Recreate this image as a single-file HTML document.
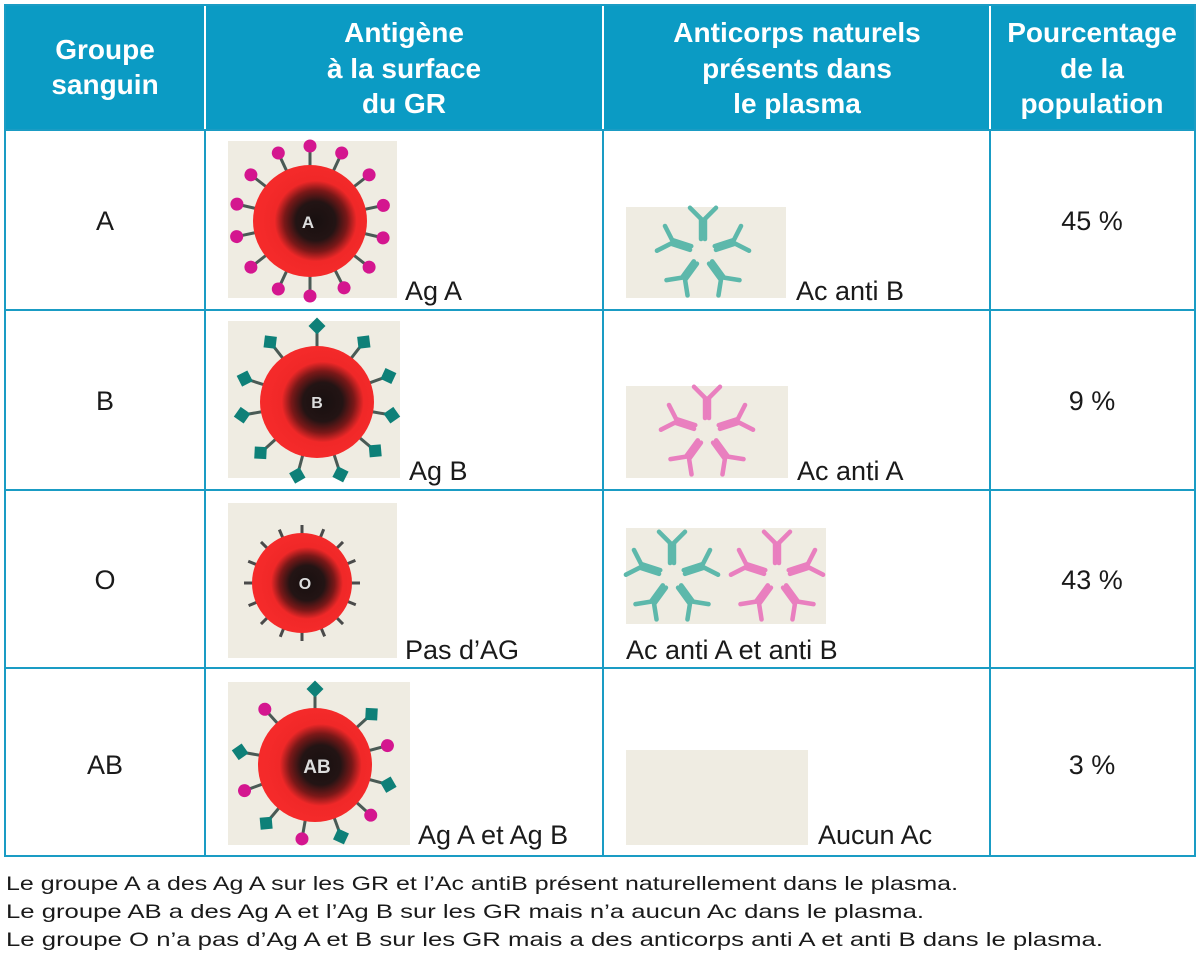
<!DOCTYPE html>
<html><head><meta charset="utf-8"><style>
html,body{margin:0;padding:0;background:#fff;}
svg{display:block;font-family:"Liberation Sans",sans-serif;}
</style></head><body>
<svg width="1200" height="960" viewBox="0 0 1200 960" xmlns="http://www.w3.org/2000/svg">
<defs>
<radialGradient id="rbc" cx="0.55" cy="0.5" r="0.5">
<stop offset="0" stop-color="#181010"/>
<stop offset="0.35" stop-color="#231414"/>
<stop offset="0.55" stop-color="#7a1818"/>
<stop offset="0.72" stop-color="#f02828"/>
<stop offset="1" stop-color="#f52a2a"/>
</radialGradient>
<g id="spA"><line x1="0" y1="-54" x2="0" y2="-70" stroke="#4a5a55" stroke-width="3"/><circle cx="0" cy="-75" r="6.5" fill="#d4168f"/></g>
<g id="spB"><line x1="0" y1="-54" x2="0" y2="-70" stroke="#4a5a55" stroke-width="3"/><rect x="-6" y="-82" width="12" height="12" fill="#0e8078" transform="rotate(45 0 -76)"/></g>
<g id="spO"><line x1="0" y1="-46" x2="0" y2="-58" stroke="#4a4a4a" stroke-width="3"/></g>
<g id="yT"><g stroke="#5db8ab" stroke-width="3.5" fill="none" stroke-linecap="round"><line x1="-1.5" y1="0" x2="-1.5" y2="-15"/><line x1="1.5" y1="0" x2="1.5" y2="-15"/><line x1="-1" y1="-15" x2="-10" y2="-24"/><line x1="1" y1="-15" x2="10" y2="-24"/></g></g>
<g id="yP"><g stroke="#e97fbf" stroke-width="3.5" fill="none" stroke-linecap="round"><line x1="-1.5" y1="0" x2="-1.5" y2="-15"/><line x1="1.5" y1="0" x2="1.5" y2="-15"/><line x1="-1" y1="-15" x2="-10" y2="-24"/><line x1="1" y1="-15" x2="10" y2="-24"/></g></g>
<g id="cT"><use href="#yT" transform="rotate(0) translate(0,-10)"/><use href="#yT" transform="rotate(72) translate(0,-10)"/><use href="#yT" transform="rotate(144) translate(0,-10)"/><use href="#yT" transform="rotate(216) translate(0,-10)"/><use href="#yT" transform="rotate(288) translate(0,-10)"/></g>
<g id="cP"><use href="#yP" transform="rotate(0) translate(0,-10)"/><use href="#yP" transform="rotate(72) translate(0,-10)"/><use href="#yP" transform="rotate(144) translate(0,-10)"/><use href="#yP" transform="rotate(216) translate(0,-10)"/><use href="#yP" transform="rotate(288) translate(0,-10)"/></g>
</defs>

<rect x="5" y="5" width="1190" height="124" fill="#0b9bc4"/>
<g stroke="#fff" stroke-width="2"><line x1="205" y1="5" x2="205" y2="129"/><line x1="603" y1="5" x2="603" y2="129"/><line x1="990" y1="5" x2="990" y2="129"/></g>
<g fill="#fff" font-weight="bold" font-size="28" text-anchor="middle">
<text x="105" y="59">Groupe</text><text x="105" y="94">sanguin</text>
<text x="404" y="42">Antigène</text><text x="404" y="78">à la surface</text><text x="404" y="113">du GR</text>
<text x="797" y="42">Anticorps naturels</text><text x="797" y="78">présents dans</text><text x="797" y="113">le plasma</text>
<text x="1092" y="42">Pourcentage</text><text x="1092" y="78">de la</text><text x="1092" y="113">population</text>
</g>

<g stroke="#1a9cc4" stroke-width="2" fill="none">
<rect x="5" y="5" width="1190" height="851"/>
<line x1="5" y1="130" x2="1195" y2="130"/>
<line x1="5" y1="310" x2="1195" y2="310"/>
<line x1="5" y1="490" x2="1195" y2="490"/>
<line x1="5" y1="668" x2="1195" y2="668"/>
<line x1="205" y1="130" x2="205" y2="856"/>
<line x1="603" y1="130" x2="603" y2="856"/>
<line x1="990" y1="130" x2="990" y2="856"/>
</g>

<g fill="#efece2">
<rect x="228" y="141" width="169" height="157"/>
<rect x="626" y="207" width="160" height="91"/>
<rect x="228" y="321" width="172" height="157"/>
<rect x="626" y="386" width="162" height="92"/>
<rect x="228" y="503" width="169" height="155"/>
<rect x="626" y="528" width="200" height="96"/>
<rect x="228" y="682" width="182" height="163"/>
<rect x="626" y="750" width="182" height="95"/>
</g>

<g transform="translate(310,221)">
<use href="#spA" transform="rotate(0)"/><use href="#spA" transform="rotate(-25)"/><use href="#spA" transform="rotate(25)"/><use href="#spA" transform="rotate(52)"/><use href="#spA" transform="rotate(78)"/><use href="#spA" transform="rotate(103)"/><use href="#spA" transform="rotate(128)"/><use href="#spA" transform="rotate(153)"/><use href="#spA" transform="rotate(180)"/><use href="#spA" transform="rotate(205)"/><use href="#spA" transform="rotate(232)"/><use href="#spA" transform="rotate(258)"/><use href="#spA" transform="rotate(283)"/><use href="#spA" transform="rotate(308)"/>
<ellipse cx="0" cy="0" rx="57" ry="56" fill="url(#rbc)"/>
<text x="-2" y="7" fill="#ddd" font-size="17" font-weight="bold" text-anchor="middle">A</text>
</g>
<g transform="translate(317,402)">
<use href="#spB" transform="rotate(0)"/><use href="#spB" transform="rotate(38)"/><use href="#spB" transform="rotate(70)"/><use href="#spB" transform="rotate(100)"/><use href="#spB" transform="rotate(130)"/><use href="#spB" transform="rotate(162)"/><use href="#spB" transform="rotate(195)"/><use href="#spB" transform="rotate(228)"/><use href="#spB" transform="rotate(260)"/><use href="#spB" transform="rotate(288)"/><use href="#spB" transform="rotate(322)"/>
<ellipse cx="0" cy="0" rx="57" ry="56" fill="url(#rbc)"/>
<text x="0" y="6" fill="#ddd" font-size="16" font-weight="bold" text-anchor="middle">B</text>
</g>
<g transform="translate(302,583)">
<use href="#spO" transform="rotate(0)"/><use href="#spO" transform="rotate(22)"/><use href="#spO" transform="rotate(45)"/><use href="#spO" transform="rotate(67)"/><use href="#spO" transform="rotate(90)"/><use href="#spO" transform="rotate(112)"/><use href="#spO" transform="rotate(135)"/><use href="#spO" transform="rotate(157)"/><use href="#spO" transform="rotate(180)"/><use href="#spO" transform="rotate(202)"/><use href="#spO" transform="rotate(225)"/><use href="#spO" transform="rotate(247)"/><use href="#spO" transform="rotate(270)"/><use href="#spO" transform="rotate(292)"/><use href="#spO" transform="rotate(315)"/><use href="#spO" transform="rotate(337)"/>
<ellipse cx="0" cy="0" rx="50" ry="50" fill="url(#rbc)"/>
<text x="3" y="6" fill="#ddd" font-size="16" font-weight="bold" text-anchor="middle">O</text>
</g>
<g transform="translate(315,765)">
<use href="#spB" transform="rotate(0)"/><use href="#spB" transform="rotate(48)"/><use href="#spA" transform="rotate(75)"/><use href="#spB" transform="rotate(105)"/><use href="#spA" transform="rotate(132)"/><use href="#spB" transform="rotate(160)"/><use href="#spA" transform="rotate(190)"/><use href="#spB" transform="rotate(220)"/><use href="#spA" transform="rotate(250)"/><use href="#spB" transform="rotate(280)"/><use href="#spA" transform="rotate(318)"/>
<ellipse cx="0" cy="0" rx="57" ry="57" fill="url(#rbc)"/>
<text x="2" y="8" fill="#ddd" font-size="19" font-weight="bold" text-anchor="middle">AB</text>
</g>

<use href="#cT" transform="translate(703,252) scale(1.3)"/>
<use href="#cP" transform="translate(707,431) scale(1.3)"/>
<use href="#cT" transform="translate(672,576) scale(1.3)"/>
<use href="#cP" transform="translate(777,576) scale(1.3)"/>

<g fill="#1a1a1a" font-size="27">
<text x="405" y="300">Ag A</text>
<text x="796" y="300">Ac anti B</text>
<text x="409" y="480">Ag B</text>
<text x="797" y="480">Ac anti A</text>
<text x="405" y="659">Pas d’AG</text>
<text x="626" y="659">Ac anti A et anti B</text>
<text x="418" y="844">Ag A et Ag B</text>
<text x="818" y="844">Aucun Ac</text>
<g text-anchor="middle">
<text x="105" y="230">A</text><text x="1092" y="230">45 %</text>
<text x="105" y="410">B</text><text x="1092" y="410">9 %</text>
<text x="105" y="589">O</text><text x="1092" y="589">43 %</text>
<text x="105" y="774">AB</text><text x="1092" y="774">3 %</text>
</g>
</g>

<g fill="#1a1a1a" font-size="19.5">
<text x="6" y="890" textLength="952" lengthAdjust="spacingAndGlyphs">Le groupe A a des Ag A sur les GR et l’Ac antiB présent naturellement dans le plasma.</text>
<text x="6" y="918" textLength="918" lengthAdjust="spacingAndGlyphs">Le groupe AB a des Ag A et l’Ag B sur les GR mais n’a aucun Ac dans le plasma.</text>
<text x="6" y="946" textLength="1097" lengthAdjust="spacingAndGlyphs">Le groupe O n’a pas d’Ag A et B sur les GR mais a des anticorps anti A et anti B dans le plasma.</text>
</g>
</svg>
</body></html>
